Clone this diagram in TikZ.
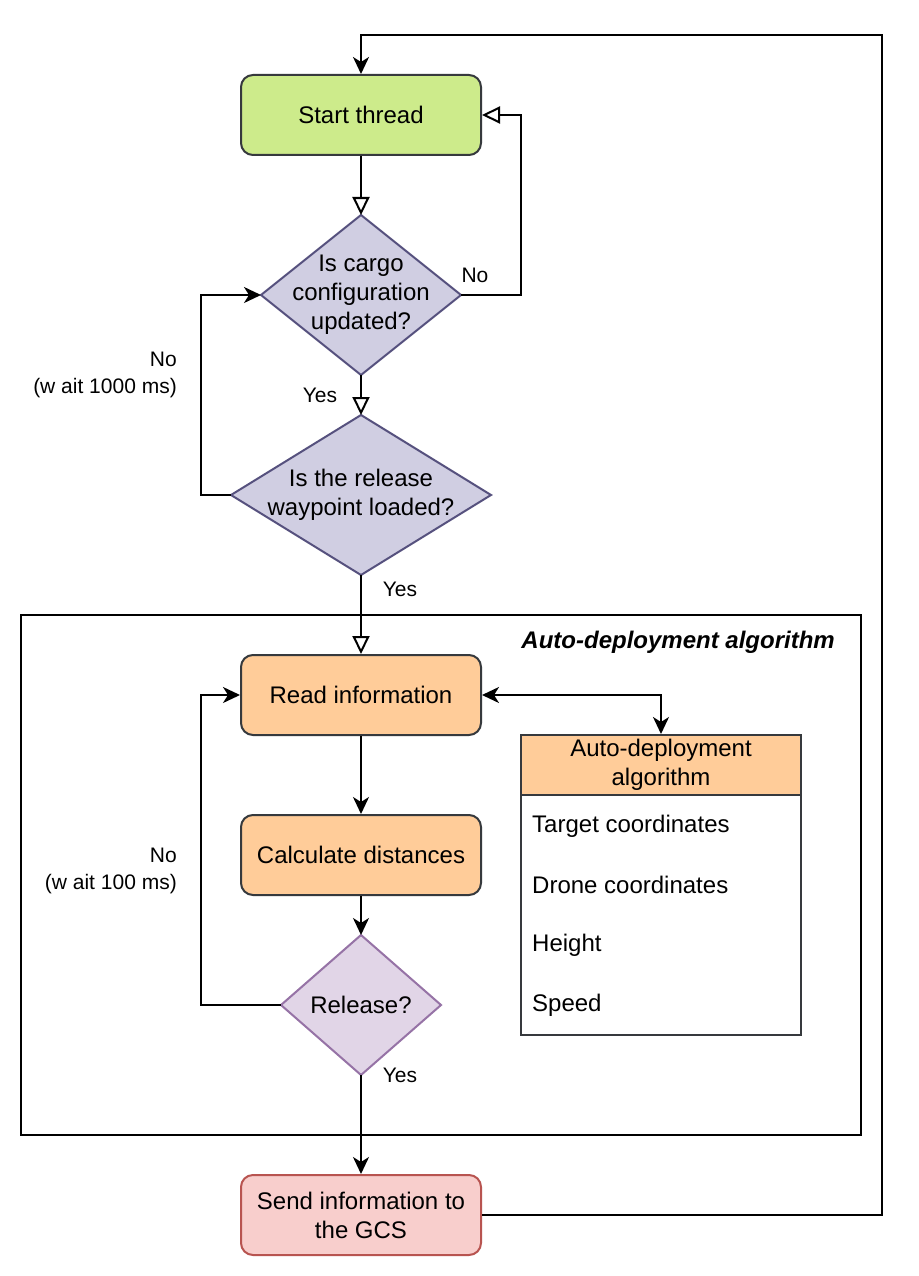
\documentclass[tikz,border=0pt]{standalone}
\usepackage{fontspec}
\setmainfont{Liberation Sans}
\usetikzlibrary{arrows.meta}
\definecolor{cdark}{HTML}{36393D}
\definecolor{cgreen}{HTML}{CDEB8B}
\definecolor{cblue}{HTML}{D0CEE2}
\definecolor{cbluel}{HTML}{56517E}
\definecolor{corange}{HTML}{FFCC99}
\definecolor{cpurp}{HTML}{E1D5E7}
\definecolor{cpurpl}{HTML}{9673A6}
\definecolor{cred}{HTML}{F8CECC}
\definecolor{credl}{HTML}{B85450}
\tikzset{
  box/.style={draw=cdark, line width=2pt, rounded corners=12pt, minimum width=240pt, minimum height=80pt, inner sep=0pt, align=center},
  dia/.style={line width=2pt},
  conn/.style={line width=2pt, draw=black},
  opentip/.style={-{Triangle[open,length=18pt,width=17pt]}},
  filltip/.style={-{Stealth[length=17pt,width=16pt,inset=5pt]}},
  bothtip/.style={{Stealth[length=17pt,width=16pt,inset=5pt]}-{Stealth[length=17pt,width=16pt,inset=5pt]}},
  lbl/.style={font=\fontsize{21}{27}\selectfont, inner sep=0pt},
  item/.style={anchor=west, inner sep=0pt}
}
\begin{document}
\begin{tikzpicture}[x=1pt,y=-1pt,font=\fontsize{24}{29}\selectfont]
\fill[white] (0,0) rectangle (918,1276);
\useasboundingbox (0,0) rectangle (918,1276);

% container
\node[draw=black, line width=2pt, minimum width=840pt, minimum height=520pt, inner sep=0pt] (cont) at (441,875) {};
\node[anchor=east, inner sep=0pt, font=\fontsize{24}{29}\selectfont\bfseries\itshape] (title) at (835,642) {Auto-deployment algorithm};

% nodes
\node[box, fill=cgreen] (start) at (361,115) {Start thread};

\draw[dia, draw=cbluel, fill=cblue] (361,215) coordinate (d1t) -- (461,295) coordinate (d1r) -- (361,375) coordinate (d1b) -- (261,295) coordinate (d1l) -- cycle;
\node[align=center, inner sep=0pt] (d1) at (361,295) {Is cargo\\configuration\\updated?};

\draw[dia, draw=cbluel, fill=cblue] (361,415) coordinate (d2t) -- (491,495) coordinate (d2r) -- (361,575) coordinate (d2b) -- (231,495) coordinate (d2l) -- cycle;
\node[align=center, inner sep=0pt] (d2) at (361,495) {Is the release\\waypoint loaded?};

\node[box, fill=corange] (read) at (361,695) {Read information};
\node[box, fill=corange] (calc) at (361,855) {Calculate distances};

\draw[dia, draw=cpurpl, fill=cpurp] (361,935) coordinate (d3t) -- (441,1005) coordinate (d3r) -- (361,1075) coordinate (d3b) -- (281,1005) coordinate (d3l) -- cycle;
\node[inner sep=0pt] (d3) at (361,1005) {Release?};

\node[box, draw=credl, fill=cred] (send) at (361,1215) {Send information to\\the GCS};

% table
\node[draw=cdark, line width=2pt, fill=white, minimum width=280pt, minimum height=240pt, inner sep=0pt] (tblbody) at (661,915) {};
\node[draw=cdark, line width=2pt, fill=corange, minimum width=280pt, minimum height=60pt, inner sep=0pt, align=center] (tbl) at (661,765) {Auto-deployment\\algorithm};
\node[item] (i1) at (532,826) {Target coordinates};
\node[item] (i2) at (532,885) {Drone coordinates};
\node[item] (i3) at (532,945) {Height};
\node[item] (i4) at (532,1005) {Speed};

% connectors
\draw[conn, opentip] (start.south) -- (d1t);
\draw[conn, opentip] (d1r) -- ++(60,0) |- (start.east);
\draw[conn, opentip] (d1b) -- (d2t);
\draw[conn, filltip] (d2l) -- ++(-30,0) |- (d1l);
\draw[conn, opentip] (d2b) -- (read.north);
\draw[conn, bothtip] (read.east) -| (tbl.north);
\draw[conn, filltip] (read.south) -- (calc.north);
\draw[conn, filltip] (calc.south) -- (d3t);
\draw[conn, filltip] (d3l) -- ++(-80,0) |- (read.west);
\draw[conn, filltip] (d3b) -- (send.north);
\draw[conn, filltip] (send.east) -- ++(400,0) -- ++(0,-1180) -| (start.north);

% labels
\node[lbl] (l1) at (475,275) {No};
\node[lbl] (l2) at (320,395) {Yes};
\node[lbl] (l3) at (400,589) {Yes};
\node[lbl] (l4) at (400,1075) {Yes};
\node[lbl, anchor=east, align=right] (l5) at (177,375) {No\\(w ait 1000 ms)};
\node[lbl, anchor=east, align=right] (l6) at (177,871) {No\\(w ait 100 ms)};
\end{tikzpicture}
\end{document}
